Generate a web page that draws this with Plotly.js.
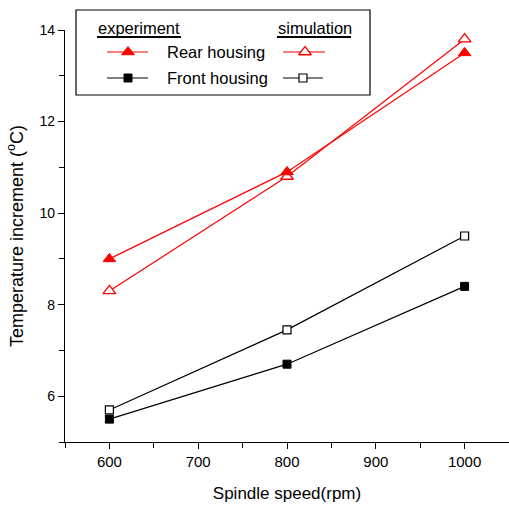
<!DOCTYPE html>
<html>
<head>
<meta charset="utf-8">
<script src="https://cdn.plot.ly/plotly-3.0.1.min.js"></script>
<style>html,body{margin:0;padding:0;background:#fff;}</style>
</head>
<body>
<div id="chart" style="width:509px;height:510px;"></div>
<script>
// Data
const speeds = [600, 800, 1000];
const rearExperiment = [9.0, 10.9, 13.5];
const rearSimulation = [8.3, 10.8, 13.8];
const frontExperiment = [5.5, 6.7, 8.4];
const frontSimulation = [5.7, 7.45, 9.5];
const seriesNames = ["Rear housing", "Front housing"];
const groupNames = ["experiment", "simulation"];
const xTicks = [600, 700, 800, 900, 1000];
const yTicks = [6, 8, 10, 12, 14];

const RED = '#ff0000', BLACK = '#000000';
const FONT = 'Liberation Sans, Arial, sans-serif';

// plot area in pixels (for legend placement helper)
const L = 65, R = 509, T = 30, B = 442;
const px = x => (x - L) / (R - L);
const py = y => (B - y) / (B - T);

const traces = [
  {x: speeds, y: rearSimulation, mode: 'lines+markers', name: 'sim rear',
   line: {color: RED, width: 1.2},
   marker: {symbol: 'triangle-up', size: 11, color: '#ffffff', line: {color: RED, width: 1.3}}},
  {x: speeds, y: rearExperiment, mode: 'lines+markers', name: 'exp rear',
   line: {color: RED, width: 1.2},
   marker: {symbol: 'triangle-up', size: 11, color: RED, line: {color: RED, width: 1}}},
  {x: speeds, y: frontSimulation, mode: 'lines+markers', name: 'sim front',
   line: {color: BLACK, width: 1.2},
   marker: {symbol: 'square', size: 8, color: '#ffffff', line: {color: BLACK, width: 1.2}}},
  {x: speeds, y: frontExperiment, mode: 'lines+markers', name: 'exp front',
   line: {color: BLACK, width: 1.2},
   marker: {symbol: 'square', size: 8, color: BLACK, line: {color: BLACK, width: 1}}},
  // legend samples on a pixel-scaled overlay axis
  {x: [107, 128, 148], y: [52, 52, 52], xaxis: 'x2', yaxis: 'y2', mode: 'lines+markers',
   line: {color: RED, width: 1.2}, marker: {symbol: 'triangle-up', size: 11, color: RED, line: {color: RED, width: 1}},
   selectedpoints: [1], unselected: {marker: {opacity: 0}}, hoverinfo: 'skip'},
  {x: [283, 305, 325], y: [52, 52, 52], xaxis: 'x2', yaxis: 'y2', mode: 'lines+markers',
   line: {color: RED, width: 1.2}, marker: {symbol: 'triangle-up', size: 11, color: '#ffffff', line: {color: RED, width: 1.3}},
   selectedpoints: [1], unselected: {marker: {opacity: 0}}, hoverinfo: 'skip'},
  {x: [107, 128, 148], y: [78, 78, 78], xaxis: 'x2', yaxis: 'y2', mode: 'lines+markers',
   line: {color: BLACK, width: 1.2}, marker: {symbol: 'square', size: 8, color: BLACK, line: {color: BLACK, width: 1}},
   selectedpoints: [1], unselected: {marker: {opacity: 0}}, hoverinfo: 'skip'},
  {x: [283, 303, 323], y: [78, 78, 78], xaxis: 'x2', yaxis: 'y2', mode: 'lines+markers',
   line: {color: BLACK, width: 1.2}, marker: {symbol: 'square', size: 8, color: '#ffffff', line: {color: BLACK, width: 1.2}},
   selectedpoints: [1], unselected: {marker: {opacity: 0}}, hoverinfo: 'skip'}
];

const layout = {
  width: 509, height: 510,
  margin: {l: L, r: 509 - R, t: T, b: 510 - B},
  paper_bgcolor: '#ffffff', plot_bgcolor: '#ffffff',
  showlegend: false,
  font: {family: FONT, size: 14, color: '#000'},
  xaxis: {
    range: [550, 1050], tickvals: xTicks, ticktext: xTicks.map(String),
    showgrid: false, zeroline: false, showline: true, linecolor: '#000', linewidth: 1.2,
    ticks: 'outside', ticklen: 6, tickwidth: 1, tickcolor: '#000',
    minor: {dtick: 50, tick0: 550, ticks: 'outside', ticklen: 5, tickwidth: 1, tickcolor: '#000', showgrid: false},
    tickfont: {family: FONT, size: 15},
    title: {text: 'Spindle speed(rpm)', font: {family: FONT, size: 17}, standoff: 17}
  },
  yaxis: {
    range: [5, 14], tickvals: yTicks, ticktext: yTicks.map(String),
    showgrid: false, zeroline: false, showline: true, linecolor: '#000', linewidth: 1.2,
    ticks: 'outside', ticklen: 6, tickwidth: 1, tickcolor: '#000',
    minor: {dtick: 1, tick0: 5, ticks: 'outside', ticklen: 5, tickwidth: 1, tickcolor: '#000', showgrid: false},
    tickfont: {family: FONT, size: 14},
    title: {text: 'Temperature increment (<sup>o</sup>C)', font: {family: FONT, size: 18}, standoff: 11}
  },
  xaxis2: {overlaying: 'x', range: [L, R], visible: false, fixedrange: true},
  yaxis2: {overlaying: 'y', range: [B, T], visible: false, fixedrange: true},
  shapes: [
    {type: 'rect', xref: 'paper', yref: 'paper', x0: px(76), x1: px(370), y0: py(95), y1: py(10),
     line: {color: '#000', width: 1.2}, fillcolor: 'rgba(0,0,0,0)'},
    {type: 'line', xref: 'paper', yref: 'paper', x0: px(97), x1: px(181), y0: py(37), y1: py(37),
     line: {color: '#000', width: 2}},
    {type: 'line', xref: 'paper', yref: 'paper', x0: px(277), x1: px(351), y0: py(37), y1: py(37),
     line: {color: '#000', width: 2}}
  ],
  annotations: [
    {text: groupNames[0], xref: 'paper', yref: 'paper', x: px(96), y: py(28), xanchor: 'left', yanchor: 'middle',
     showarrow: false, font: {family: FONT, size: 16.5}},
    {text: groupNames[1], xref: 'paper', yref: 'paper', x: px(276), y: py(28), xanchor: 'left', yanchor: 'middle',
     showarrow: false, font: {family: FONT, size: 16.5}},
    {text: seriesNames[0], xref: 'paper', yref: 'paper', x: px(165), y: py(52), xanchor: 'left', yanchor: 'middle',
     showarrow: false, font: {family: FONT, size: 16.5}},
    {text: seriesNames[1], xref: 'paper', yref: 'paper', x: px(165), y: py(78), xanchor: 'left', yanchor: 'middle',
     showarrow: false, font: {family: FONT, size: 16.5}}
  ]
};

Plotly.newPlot('chart', traces, layout, {displayModeBar: false, staticPlot: true});
</script>
</body>
</html>
